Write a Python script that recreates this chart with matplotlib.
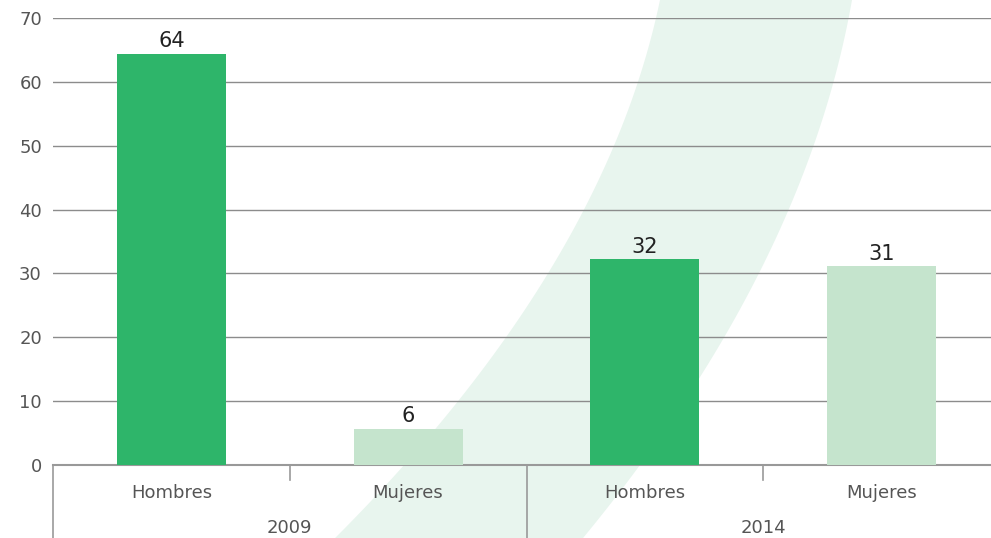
import matplotlib.pyplot as plt
import numpy as np
from matplotlib.patches import Polygon
from matplotlib.transforms import blended_transform_factory

groups = ["2009", "2014"]
categories = ["Hombres", "Mujeres", "Hombres", "Mujeres"]
values = [64.4, 5.7, 32.2, 31.1]
labels = ["64", "6", "32", "31"]
colors = ["#2eb56a", "#c5e4cd", "#2eb56a", "#c5e4cd"]

W, H = 991, 538
fig = plt.figure(figsize=(W / 100, H / 100), dpi=100)

# decorative swoosh in the background (figure pixel coords)
yy = np.linspace(0, H, 60)
left_edge = 660 - 0.209 * yy - 0.000734 * yy ** 2
right_edge = 852 - 0.176 * yy - 0.000602 * yy ** 2
pts = np.vstack([np.column_stack([left_edge, yy]),
                 np.column_stack([right_edge[::-1], yy[::-1]])])
pts_fig = np.column_stack([pts[:, 0] / W, 1 - pts[:, 1] / H])
fig.patches.append(Polygon(pts_fig, closed=True, transform=fig.transFigure,
                           facecolor="#e8f5ee", edgecolor="none", zorder=-1))

ax = fig.add_axes([53 / W, (H - 465) / H, (1000 - 53) / W, (465 - 18) / H])
ax.set_facecolor("none")

x = np.arange(len(categories))
ax.bar(x, values, width=0.46, color=colors, zorder=3)
for xi, v, lab in zip(x, values, labels):
    ax.text(xi, v + 0.4, lab, ha="center", va="bottom", fontsize=15, color="#222222")

ax.set_xlim(-0.5, 3.5)
ax.set_ylim(0, 70)
ax.set_yticks(range(0, 71, 10))
ax.yaxis.grid(True, color="#8c8c8c", linewidth=1)
ax.set_axisbelow(True)
ax.tick_params(axis="y", length=0, pad=8, labelsize=13, labelcolor="#555555")

for s in ["top", "right", "left"]:
    ax.spines[s].set_visible(False)
ax.spines["bottom"].set_color("#999999")
ax.spines["bottom"].set_linewidth(1.5)
ax.set_xticks([])

trans = blended_transform_factory(ax.transData, ax.transAxes)
for xi, cat in zip(x, categories):
    ax.text(xi, -0.063, cat, transform=trans, ha="center", va="center",
            fontsize=13, color="#555555")
for gi, g in enumerate(groups):
    ax.text(0.5 + 2 * gi, -0.141, g, transform=trans, ha="center", va="center",
            fontsize=13, color="#555555")

# separators under the axis
for xs in [0.5, 2.5]:
    ax.plot([xs, xs], [0, -0.034], transform=trans, color="#999999",
            linewidth=1.2, clip_on=False)
for xs in [-0.5, 1.5]:
    ax.plot([xs, xs], [0, -0.17], transform=trans, color="#999999",
            linewidth=1.2, clip_on=False)

fig.savefig("out.png", dpi=100)
